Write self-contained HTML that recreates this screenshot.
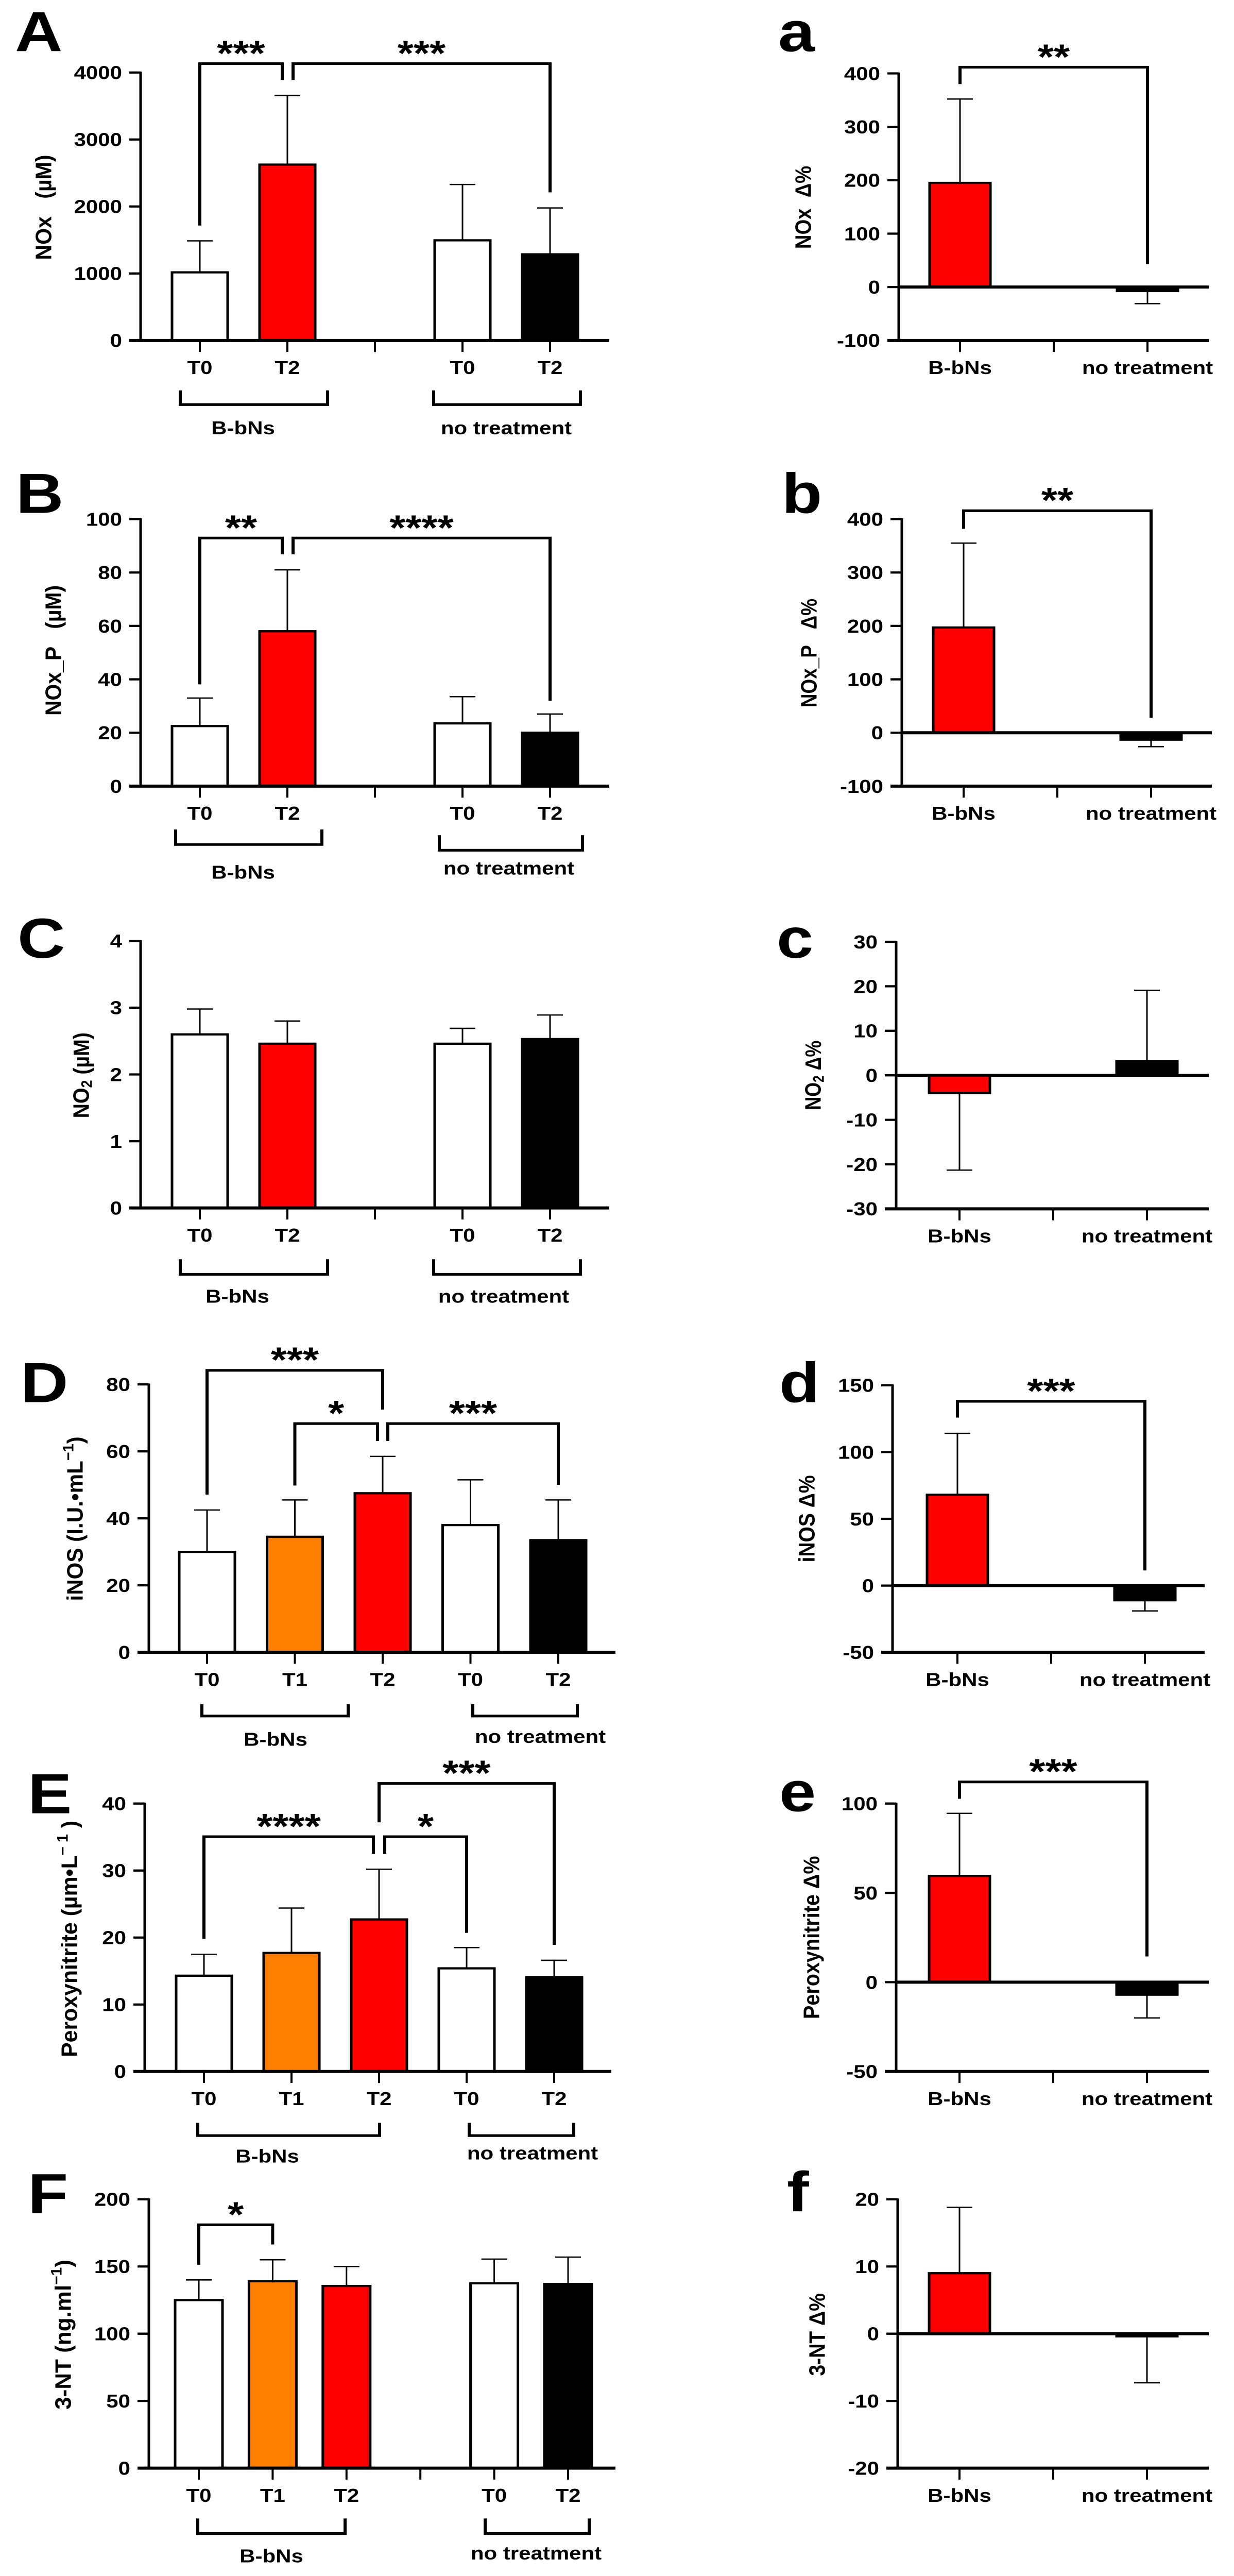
<!DOCTYPE html>
<html><head><meta charset="utf-8">
<style>
html,body{margin:0;padding:0;background:#fff;overflow:hidden;}
svg{display:block;position:absolute;left:0;top:0;width:100vw;height:100vh;}
text{font-family:"Liberation Sans","DejaVu Sans",sans-serif;font-weight:bold;fill:#000;}
</style></head>
<body>
<svg id="fig" xmlns="http://www.w3.org/2000/svg" viewBox="0 0 2396 5826" preserveAspectRatio="none"></svg>
<script>
// ---- data ----
const catsA=['T0','T2','T0','T2'];
const valsA=[1017,2625,1495,1286];
const errA=[1487,3658,2328,1978];
const ticksA=[0,1000,2000,3000,4000];
const catsDeltaA=['B-bNs','no treatment'];
const valsDeltaA=[195,-7.5];
const errDeltaA=[352,-31];
const ticksDeltaA=[-100,0,100,200,300,400];

const catsB=['T0','T2','T0','T2'];
const valsB=[22.5,58,23.5,20];
const errB=[33,81,33.5,27];
const ticksB=[0,20,40,60,80,100];
const catsDeltaB=['B-bNs','no treatment'];
const valsDeltaB=[197,-13];
const errDeltaB=[355,-26];
const ticksDeltaB=[-100,0,100,200,300,400];

const catsC=['T0','T2','T0','T2'];
const valsC=[2.6,2.46,2.46,2.53];
const errC=[2.98,2.8,2.69,2.89];
const ticksC=[0,1,2,3,4];
const catsDeltaC=['B-bNs','no treatment'];
const valsDeltaC=[-4,3.2];
const errDeltaC=[-21.3,19.1];
const ticksDeltaC=[-30,-20,-10,0,10,20,30];

const catsD=['T0','T1','T2','T0','T2'];
const valsD=[30,34.5,47.5,38,33.5];
const errD=[42.5,45.5,58.5,51.5,45.5];
const ticksD=[0,20,40,60,80];
const catsDeltaD=['B-bNs','no treatment'];
const valsDeltaD=[68,-11];
const errDeltaD=[114,-19];
const ticksDeltaD=[-50,0,50,100,150];

const catsE=['T0','T1','T2','T0','T2'];
const valsE=[14.3,17.7,22.7,15.4,14.1];
const errE=[17.5,24.4,30.2,18.5,16.6];
const ticksE=[0,10,20,30,40];
const catsDeltaE=['B-bNs','no treatment'];
const valsDeltaE=[59.5,-7];
const errDeltaE=[94.5,-20];
const ticksDeltaE=[-50,0,50,100];

const catsF=['T0','T1','T2','T0','T2'];
const valsF=[125,139,135.5,137.5,137];
const errF=[140,155,150,155.5,157];
const ticksF=[0,50,100,150,200];
const catsDeltaF=['B-bNs','no treatment'];
const valsDeltaF=[9,-0.4];
const errDeltaF=[18.8,-7.3];
const ticksDeltaF=[-20,-10,0,10,20];

// significance: [fromIndex, toIndex, label, topValue, leftEndValue, rightEndValue]
const sigA=[[0,1,'***',4132,1716,3888],[1,3,'***',4132,3888,2211]];
const sigDeltaA=[[0,1,'**',411.6,380,43]];
const sigB=[[0,1,'**',92.9,38.1,86.8],[1,3,'****',92.9,86.8,32]];
const sigDeltaB=[[0,1,'**',415.7,381.8,28]];
const sigC=[];
const sigDeltaC=[];
const sigD=[[0,2,'***',84.2,47.1,72.5],[1,2,'*',68.3,49.8,63.1],[2,4,'***',68.3,63.1,50.0]];
const sigDeltaD=[[0,1,'***',138,125.8,11.3]];
const sigE=[[0,2,'****',35.05,19.8,32.5],[2,3,'*',35.05,32.5,20.7],[2,4,'***',43.0,37.2,18.9]];
const sigDeltaE=[[0,1,'***',112.1,102.7,14.4]];
const sigF=[[0,1,'*',181,151.3,166.4]];
const sigDeltaF=[];

// ---- drawing ----
const NS='http://www.w3.org/2000/svg';
const svg=document.getElementById('fig');
function mk(tag,attrs,parent){const e=document.createElementNS(NS,tag);for(const k in attrs)e.setAttribute(k,attrs[k]);(parent||svg).appendChild(e);return e;}
function line(g,x1,y1,x2,y2,w){return mk('line',{x1:x1,y1:y1,x2:x2,y2:y2,stroke:'#000','stroke-width':w},g);}

function drawPanel(p){
  const g=mk('g',{});
  
  
  const ys=v=>p.yBot-(v-p.min)/(p.max-p.min)*(p.yBot-p.yTop);
  const xs=s=>p.x0+p.off+s*p.step;
  const L=mk('text',{x:p.letterX,y:p.letterY,'font-size':128,fill:'#1a1a1a'},g);
  L.textContent=p.letter;
  
  
  const T=mk('text',{transform:`translate(${p.titleX},${p.titleY}) rotate(-90)`,'text-anchor':'middle','font-size':44,'dominant-baseline':'middle',textLength:p.titleLen,lengthAdjust:'spacingAndGlyphs'},g);
  T.innerHTML=p.title;
  
  
  p.vals.forEach((v,i)=>{
    const cx=xs(p.slots[i]);
    const y0=ys(0),y1=ys(v);
    const top=Math.min(y0,y1),h=Math.max(Math.abs(y1-y0),3);
    const r=mk('rect',{x:cx-p.barW/2,y:top,width:p.barW,height:h,fill:p.colors[i],stroke:'#000','stroke-width':5},g);
    
    
    const ye=ys(p.err[i]);
    const el=line(g,cx,y1,cx,ye,3);
    
    
    const ec=line(g,cx-25,ye,cx+25,ye,3);
    
    
  });
  const ya=line(g,p.x0,p.yTop-2,p.x0,p.yBot+2,5);
  
  
  p.ticks.forEach(t=>{
    const y=ys(t);
    line(g,p.x0-22,y,p.x0,y,5);
    const tl=mk('text',{x:p.x0-36,y:y+15,'text-anchor':'end','font-size':42},g);
    tl.textContent=String(t);
    
    
  });
  const xa=line(g,p.x0-22,p.yBot,p.x1,p.yBot,7);
  
  
  if(p.min<0){
    const z=line(g,p.x0,ys(0),p.x1,ys(0),7);
    
    
  }
  const tickSlots=p.slots.concat(p.gapSlots);
  tickSlots.forEach(s=>line(g,xs(s),p.yBot,xs(s),p.yBot+26,4));
  p.cats.forEach((c,i)=>{
    const t=mk('text',{x:xs(p.slots[i]),y:p.yBot+76,'text-anchor':'middle','font-size':42},g);
    t.textContent=c;
    
    
  });
  (p.groups||[]).forEach(gr=>{
    const pth=mk('path',{d:`M${gr[0]},${gr[2]} V${gr[3]} H${gr[1]} V${gr[2]}`,fill:'none',stroke:'#000','stroke-width':6},g);
    
    
    const t=mk('text',{x:gr[4],y:gr[5]+15,'text-anchor':'middle','font-size':42},g);
    t.textContent=gr[6];
    
    
  });
  p.sig.forEach((s,k)=>{
    const dx=(p.sigDx&&p.sigDx[k])||[0,0];
    const xa1=xs(p.slots[s[0]])+dx[0], xb=xs(p.slots[s[1]])+dx[1];
    const yt=ys(s[3]);
    const pth=mk('path',{d:`M${xa1},${ys(s[4])} V${yt} H${xb} V${ys(s[5])}`,fill:'none',stroke:'#000','stroke-width':6},g);
    
    
    const t=mk('text',{x:(xa1+xb)/2,y:yt-40+44,'text-anchor':'middle','font-size':80},g);
    t.textContent=s[2];
    
    
  });
}

const W='#ffffff',O='#ff8000',R='#ff0000',K='#000000';
const left4={slots:[0,1,3,4],gapSlots:[2],off:115,step:170,barW:108,colors:[W,R,W,K],min:0};
const right2={slots:[0,2],gapSlots:[1],barW:118,colors:[R,K],step:182};

drawPanel(Object.assign({},left4,{name:'panel-A-nox',letter:'A',letterX:29,letterY:116,title:'NOx&#160;&#160;&#160;(µM)',titleX:88,titleY:469,titleLen:238,
  x0:273,x1:1183,yTop:164,yBot:770,max:4000,cats:catsA,vals:valsA,err:errA,ticks:ticksA,sig:sigA,sigDx:[[0,-10],[11,0]],
  groups:[[350,636,883,915,472,967,'B-bNs'],[842,1127,883,915,983,967,'no treatment']]}));
drawPanel(Object.assign({},right2,{name:'panel-a-nox-delta',letter:'a',letterX:1511,letterY:116,title:'NOx&#160;&#160;Δ%',titleX:1563,titleY:469,titleLen:188,
  x0:1745,x1:2347,off:119,yTop:166,yBot:770,min:-100,max:400,cats:catsDeltaA,vals:valsDeltaA,err:errDeltaA,ticks:ticksDeltaA,sig:sigDeltaA}));

drawPanel(Object.assign({},left4,{name:'panel-B-nox-p',letter:'B',letterX:31,letterY:1160,title:'NOx_P&#160;&#160;&#160;(µM)',titleX:107,titleY:1471,titleLen:295,
  x0:273,x1:1183,yTop:1174,yBot:1778,max:100,cats:catsB,vals:valsB,err:errB,ticks:ticksB,sig:sigB,sigDx:[[0,-10],[11,0]],
  groups:[[341,625,1876,1910,472,1972,'B-bNs'],[853,1131,1889,1923,988,1963,'no treatment']]}));
drawPanel(Object.assign({},right2,{name:'panel-b-nox-p-delta',letter:'b',letterX:1518,letterY:1160,title:'NOx_P&#160;&#160;&#160;Δ%',titleX:1574,titleY:1477,titleLen:246,
  x0:1751,x1:2353,off:120,yTop:1174,yBot:1778,min:-100,max:400,cats:catsDeltaB,vals:valsDeltaB,err:errDeltaB,ticks:ticksDeltaB,sig:sigDeltaB}));

drawPanel(Object.assign({},left4,{name:'panel-C-no2',letter:'C',letterX:34,letterY:2166,title:'NO<tspan font-size="30" dy="10">2</tspan><tspan dy="-10"> (µM)</tspan>',titleX:161,titleY:2432,titleLen:194,
  x0:273,x1:1183,yTop:2128,yBot:2732,max:4,cats:catsC,vals:valsC,err:errC,ticks:ticksC,sig:sigC,
  groups:[[350,636,2848,2882,461,2931,'B-bNs'],[842,1127,2848,2882,978,2931,'no treatment']]}));
drawPanel(Object.assign({},right2,{name:'panel-c-no2-delta',letter:'c',letterX:1508,letterY:2166,title:'NO<tspan font-size="30" dy="10">2</tspan><tspan dy="-10"> Δ%</tspan>',titleX:1582,titleY:2432,titleLen:157,
  x0:1740,x1:2347,off:123,yTop:2130,yBot:2734,min:-30,max:30,cats:catsDeltaC,vals:valsDeltaC,err:errDeltaC,ticks:ticksDeltaC,sig:sigDeltaC}));

const left5={slots:[0,1,2,3,4],gapSlots:[],barW:108,colors:[W,O,R,W,K],min:0};
drawPanel(Object.assign({},left5,{name:'panel-D-inos',letter:'D',letterX:40,letterY:3171,title:'iNOS (I.U.•mL<tspan font-size="30" dy="-14">−1</tspan><tspan dy="14">)</tspan>',titleX:149,titleY:3435,titleLen:372,
  x0:289,x1:1195,off:113,step:170.5,yTop:3131,yBot:3737,max:80,cats:catsD,vals:valsD,err:errD,ticks:ticksD,sig:sigD,sigDx:[[0,0],[0,-10],[10,0]],
  groups:[[392,676,3854,3881,535,3933,'B-bNs'],[918,1121,3854,3881,1049,3927,'no treatment']]}));
drawPanel(Object.assign({},right2,{name:'panel-d-inos-delta',letter:'d',letterX:1513,letterY:3171,title:'iNOS Δ%',titleX:1570,titleY:3435,titleLen:197,
  x0:1733,x1:2339,off:126,yTop:3133,yBot:3737,min:-50,max:150,cats:catsDeltaD,vals:valsDeltaD,err:errDeltaD,ticks:ticksDeltaD,sig:sigDeltaD}));

drawPanel(Object.assign({},left5,{name:'panel-E-peroxynitrite',letter:'E',letterX:54,letterY:4101,title:'Peroxynitrite (µm•L<tspan font-size="30" dy="-14">− 1</tspan><tspan dy="14"> )</tspan>',titleX:138,titleY:4385,titleLen:535,
  x0:281,x1:1187,off:115,step:170,yTop:4079,yBot:4685,max:40,cats:catsE,vals:valsE,err:errE,ticks:ticksE,sig:sigE,sigDx:[[0,-11],[11,0],[0,0]],
  groups:[[384,737,4801,4830,519,4876,'B-bNs'],[911,1114,4801,4830,1034,4869,'no treatment']]}));
drawPanel(Object.assign({},right2,{name:'panel-e-peroxynitrite-delta',letter:'e',letterX:1513,letterY:4096,title:'Peroxynitrite Δ%',titleX:1579,titleY:4382,titleLen:369,
  x0:1740,x1:2347,off:123,yTop:4079,yBot:4685,min:-50,max:100,cats:catsDeltaE,vals:valsDeltaE,err:errDeltaE,ticks:ticksDeltaE,sig:sigDeltaE}));

drawPanel({name:'panel-F-3nt',letter:'F',letterX:54,letterY:5005,title:'3-NT (ng.ml<tspan font-size="30" dy="-14">−1</tspan><tspan dy="14">)</tspan>',titleX:126,titleY:5280,titleLen:339,
  slots:[0,1,2,4,5],gapSlots:[3],barW:92,colors:[W,O,R,W,K],min:0,
  x0:289,x1:1195,off:97,step:143.4,yTop:4974,yBot:5582,max:200,cats:catsF,vals:valsF,err:errF,ticks:ticksF,sig:sigF,
  groups:[[384,670,5696,5730,527,5780,'B-bNs'],[942,1144,5696,5730,1041,5774,'no treatment']]});
drawPanel(Object.assign({},right2,{name:'panel-f-3nt-delta',letter:'f',letterX:1528,letterY:5001,title:'3-NT Δ%',titleX:1590,titleY:5280,titleLen:187,
  x0:1743,x1:2347,off:120,yTop:4974,yBot:5582,min:-20,max:20,cats:catsDeltaF,vals:valsDeltaF,err:errDeltaF,ticks:ticksDeltaF,sig:sigDeltaF}));
</script>
</body></html>
